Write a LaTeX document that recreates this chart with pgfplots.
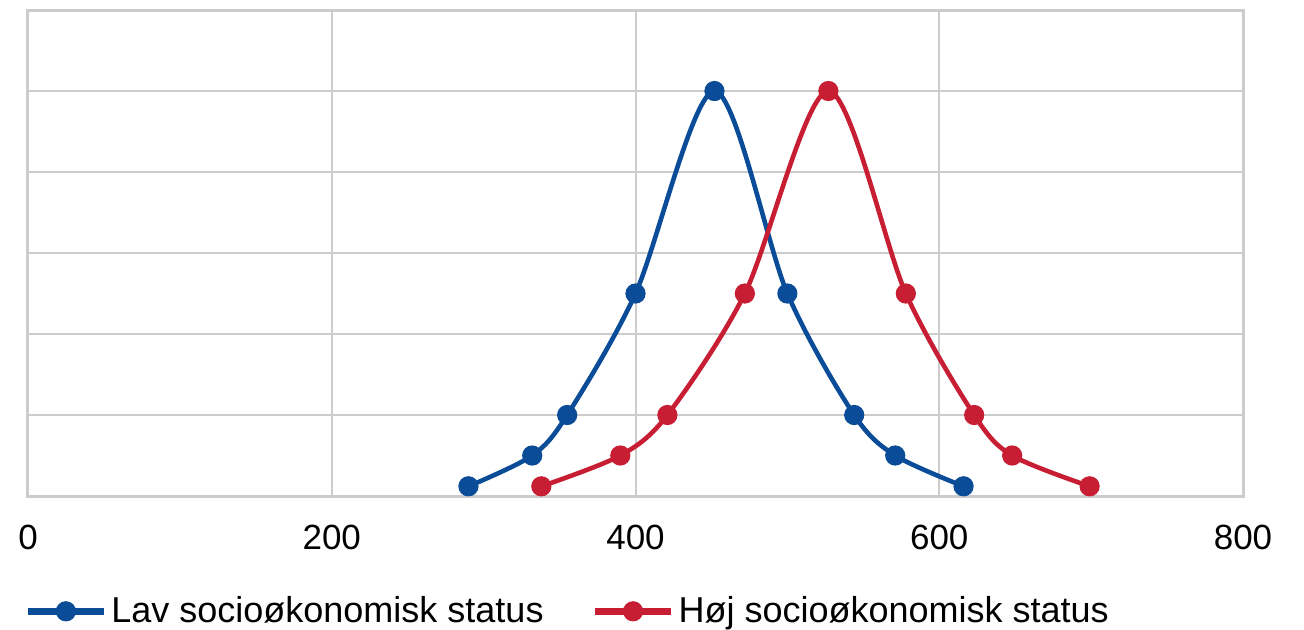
\documentclass[border=0pt]{standalone}
\usepackage{pgfplots}
\pgfplotsset{compat=1.18}
\usepackage{fontspec}
\setmainfont{Liberation Sans}
\definecolor{lavblue}{RGB}{10,76,152}
\definecolor{hojred}{RGB}{200,30,52}
\definecolor{gridgray}{RGB}{204,204,204}
\begin{document}
\begin{tikzpicture}
  % page frame: plot area sits at (0,0)-(607.5pt,243pt)
  \path[use as bounding box] (-14pt,-66.5pt) rectangle (638pt,248pt);
  \begin{axis}[
    at={(0,0)}, anchor=south west,
    width=607.5pt, height=243pt, scale only axis,
    xmin=0, xmax=800, ymin=0, ymax=6,
    xtick={0,200,...,800}, ytick={0,1,...,6},
    yticklabels={},
    major tick length=0pt,
    grid=major,
    grid style={gridgray, line width=1pt},
    axis line style={gridgray, line width=1.5pt},
    tick label style={font=\fontsize{17.5}{20}\selectfont},
    /pgf/number format/assume math mode=true,
    xticklabel style={yshift=-11pt},
    legend columns=2,
    legend style={draw=none, fill=none, at={(0,-0.19)}, anchor=north west,
      xshift=-5pt,
      font=\fontsize{18}{20}\selectfont,
      /tikz/every even column/.append style={column sep=22pt}},
    legend image code/.code={
      \draw[#1, line width=3.5pt, mark repeat=2, mark phase=2]
        plot coordinates {(0pt,0pt) (19pt,0pt) (38pt,0pt)};},
    every axis plot/.append style={line width=2.3pt, smooth,
      mark=*, mark size=4.8pt, mark options={solid, line width=0.5pt}},
  ]
  % Lav
  \addplot[color=lavblue] coordinates {
    (290,0.12) (332,0.5) (355,1) (400,2.5) (452,5)
    (500,2.5) (544,1) (571,0.5) (616,0.12)};
  % Hoej
  \addplot[color=hojred] coordinates {
    (338,0.12) (390,0.5) (421,1) (472,2.5) (527,5)
    (578,2.5) (623,1) (648,0.5) (699,0.12)};
  \legend{Lav socioøkonomisk status, Høj socioøkonomisk status}
  \end{axis}
\end{tikzpicture}
\end{document}
